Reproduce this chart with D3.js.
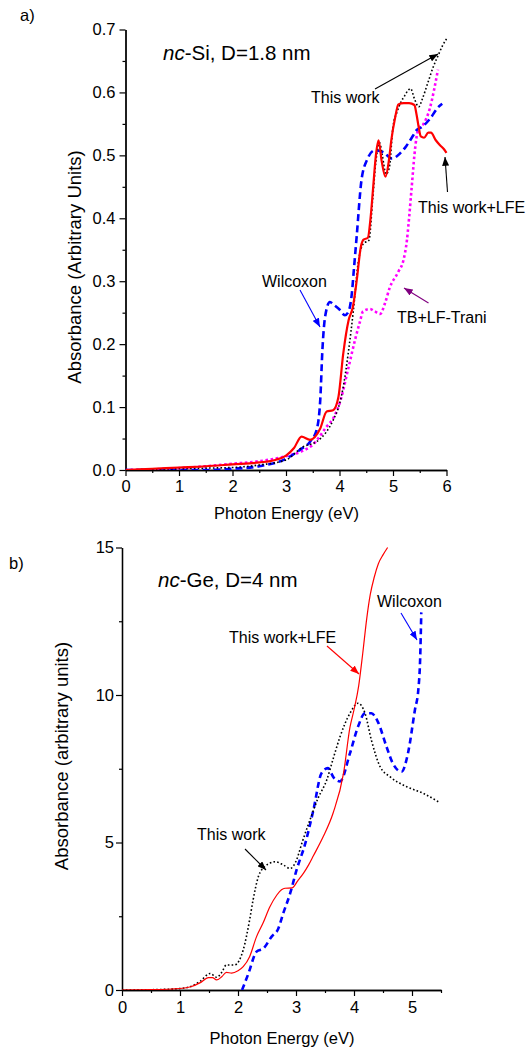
<!DOCTYPE html>
<html>
<head>
<meta charset="utf-8">
<script src="https://cdn.jsdelivr.net/npm/d3@7"></script>
<style>
  html, body { margin: 0; padding: 0; background: #fff; }
  svg { display: block; font-family: "Liberation Sans", Arial, sans-serif; }
</style>
</head>
<body>
<svg id="chart" width="528" height="1048"></svg>
<script>
// ---------- Panel a) nc-Si ----------
const siXTicks = [0, 1, 2, 3, 4, 5, 6];
const siYTicks = [0, 0.1, 0.2, 0.3, 0.4, 0.5, 0.6, 0.7];

const siLfeE = [0, 0.5, 1, 1.5, 2, 2.5, 2.8, 3.0, 3.15, 3.29, 3.45, 3.64, 3.76, 3.88, 3.98, 4.07, 4.17, 4.25, 4.32, 4.4, 4.45, 4.53, 4.58, 4.63, 4.68, 4.73, 4.79, 4.86, 4.92, 4.97, 5.04, 5.1, 5.2, 5.3, 5.4, 5.44, 5.48, 5.52, 5.58, 5.66, 5.71, 5.8, 5.88, 5.95, 6.0];
const siLfeA = [0, 0.002, 0.004, 0.006, 0.009, 0.012, 0.016, 0.023, 0.035, 0.053, 0.048, 0.066, 0.093, 0.095, 0.116, 0.185, 0.238, 0.259, 0.3, 0.355, 0.366, 0.369, 0.4, 0.45, 0.5, 0.524, 0.49, 0.466, 0.49, 0.525, 0.56, 0.581, 0.583, 0.583, 0.58, 0.565, 0.545, 0.53, 0.528, 0.536, 0.536, 0.524, 0.516, 0.51, 0.504];

const siWorkE = [0, 0.5, 1, 1.5, 2, 2.5, 3.0, 3.32, 3.57, 3.75, 3.88, 4.0, 4.07, 4.17, 4.26, 4.35, 4.45, 4.55, 4.62, 4.68, 4.75, 4.8, 4.87, 4.93, 5.0, 5.08, 5.15, 5.22, 5.28, 5.33, 5.4, 5.48, 5.55, 5.65, 5.75, 5.85, 5.93, 6.0];
const siWorkA = [0, 0.001, 0.002, 0.003, 0.004, 0.008, 0.016, 0.037, 0.045, 0.06, 0.079, 0.105, 0.132, 0.19, 0.254, 0.33, 0.36, 0.365, 0.43, 0.49, 0.52, 0.5, 0.47, 0.48, 0.545, 0.57, 0.585, 0.595, 0.603, 0.606, 0.59, 0.577, 0.59, 0.615, 0.64, 0.66, 0.675, 0.685];

const siWilcE = [0, 1, 1.5, 2, 2.5, 3.0, 3.26, 3.45, 3.57, 3.64, 3.68, 3.73, 3.82, 3.9, 4.0, 4.1, 4.17, 4.23, 4.27, 4.32, 4.41, 4.51, 4.66, 4.82, 4.98, 5.13, 5.25, 5.38, 5.44, 5.54, 5.69, 5.85, 5.92];
const siWilcA = [0, 0, 0, 0.002, 0.006, 0.018, 0.032, 0.045, 0.063, 0.111, 0.19, 0.243, 0.267, 0.262, 0.255, 0.246, 0.252, 0.28, 0.32, 0.37, 0.46, 0.492, 0.508, 0.505, 0.495, 0.503, 0.515, 0.532, 0.54, 0.545, 0.558, 0.577, 0.582];

const siTraniE = [0, 0.5, 1, 1.5, 2, 2.5, 3.0, 3.3, 3.5, 3.76, 3.9, 4.01, 4.16, 4.3, 4.38, 4.44, 4.57, 4.66, 4.76, 4.85, 4.94, 5.1, 5.2, 5.26, 5.3, 5.35, 5.4, 5.44, 5.5, 5.57, 5.63, 5.69, 5.77, 5.84];
const siTraniA = [0, 0.001, 0.003, 0.006, 0.01, 0.014, 0.022, 0.03, 0.04, 0.069, 0.085, 0.108, 0.16, 0.21, 0.235, 0.252, 0.256, 0.252, 0.248, 0.265, 0.29, 0.315, 0.335, 0.365, 0.4, 0.45, 0.5, 0.529, 0.545, 0.55, 0.56, 0.575, 0.605, 0.636];

// ---------- Panel b) nc-Ge ----------
const geXTicks = [0, 1, 2, 3, 4, 5];
const geYTicks = [0, 5, 10, 15];

const geLfeE = [0, 0.5, 1.0, 1.2, 1.35, 1.49, 1.56, 1.63, 1.72, 1.8, 1.89, 2.0, 2.09, 2.2, 2.32, 2.43, 2.55, 2.67, 2.75, 2.81, 2.93, 3.03, 3.13, 3.22, 3.3, 3.47, 3.64, 3.82, 3.93, 4.0, 4.08, 4.15, 4.22, 4.28, 4.35, 4.42, 4.5, 4.58];
const geLfeA = [0, 0.01, 0.05, 0.12, 0.25, 0.42, 0.42, 0.34, 0.45, 0.6, 0.57, 0.65, 0.79, 1.13, 1.81, 2.26, 2.82, 3.22, 3.4, 3.45, 3.46, 3.7, 3.96, 4.25, 4.55, 5.2, 6.0, 7.35, 8.9, 9.5, 10.3, 11.4, 12.6, 13.4, 14.0, 14.45, 14.75, 15.0];

const geWorkE = [0, 0.5, 1.0, 1.2, 1.35, 1.52, 1.63, 1.72, 1.8, 1.94, 2.09, 2.2, 2.26, 2.35, 2.46, 2.55, 2.64, 2.78, 2.9, 3.01, 3.1, 3.24, 3.38, 3.53, 3.65, 3.76, 3.93, 4.07, 4.19, 4.3, 4.45, 4.62, 4.91, 5.19, 5.48];
const geWorkA = [0, 0.01, 0.05, 0.13, 0.3, 0.56, 0.43, 0.6, 0.85, 0.85, 1.36, 2.37, 3.05, 3.84, 4.18, 4.3, 4.35, 4.24, 4.12, 4.41, 4.97, 5.76, 6.5, 7.12, 7.9, 8.59, 9.38, 9.72, 9.38, 8.47, 7.57, 7.23, 6.89, 6.67, 6.35];

const geWilcE = [2.07, 2.18, 2.32, 2.44, 2.58, 2.69, 2.78, 2.9, 3.01, 3.16, 3.3, 3.44, 3.55, 3.65, 3.76, 3.93, 4.07, 4.19, 4.3, 4.41, 4.56, 4.67, 4.82, 4.93, 5.05, 5.11, 5.14, 5.16];
const geWilcA = [0, 0.56, 1.3, 1.41, 1.81, 2.06, 2.6, 3.28, 4.07, 4.97, 6.1, 7.35, 7.52, 7.2, 7.07, 8.02, 8.93, 9.38, 9.38, 9.1, 8.25, 7.68, 7.4, 8.02, 9.49, 10.2, 11.2, 12.8];

// ---------- drawing ----------
const svg = d3.select("#chart");
const FONT = '"Liberation Sans", Arial, sans-serif';

const defs = svg.append("defs");
function marker(id, color) {
  defs.append("marker")
    .attr("id", id)
    .attr("viewBox", "0 0 10 8")
    .attr("refX", 10).attr("refY", 4)
    .attr("markerWidth", 9).attr("markerHeight", 7)
    .attr("markerUnits", "userSpaceOnUse")
    .attr("orient", "auto")
    .append("path").attr("d", "M0,0 L10,4 L0,8 Z").attr("fill", color);
}
marker("arK", "#000");
marker("arB", "#0000ff");
marker("arP", "#800080");
marker("arR", "#ff0000");

function zip(es, as) { return es.map((e, i) => [e, as[i]]); }

function panel(cfg) {
  const x = d3.scaleLinear().domain(cfg.xDomain).range(cfg.xRange);
  const y = d3.scaleLinear().domain(cfg.yDomain).range(cfg.yRange);
  const g = svg.append("g");

  // minor ticks
  const xAxisMinor = d3.axisBottom(x).tickValues(cfg.xMinor).tickSize(3).tickFormat("").tickSizeOuter(0);
  const yAxisMinor = d3.axisLeft(y).tickValues(cfg.yMinor).tickSize(3).tickFormat("").tickSizeOuter(0);
  g.append("g").attr("transform", `translate(0,${cfg.yRange[0]})`).call(xAxisMinor);
  g.append("g").attr("transform", `translate(${cfg.xRange[0]},0)`).call(yAxisMinor);

  const xAxis = d3.axisBottom(x).tickValues(cfg.xTicks).tickSize(6).tickPadding(cfg.xPad).tickSizeOuter(0).tickFormat(d3.format("d"));
  const yAxis = d3.axisLeft(y).tickValues(cfg.yTicks).tickSize(6).tickPadding(cfg.yPad).tickSizeOuter(0).tickFormat(cfg.yFmt);
  g.append("g").attr("transform", `translate(0,${cfg.yRange[0]})`).call(xAxis);
  g.append("g").attr("transform", `translate(${cfg.xRange[0]},0)`).call(yAxis);

  g.selectAll(".domain").attr("stroke", "#000").attr("stroke-width", 1.3);
  g.selectAll(".tick line").attr("stroke", "#000").attr("stroke-width", 1.2);
  g.selectAll(".tick text").attr("font-family", FONT).attr("font-size", 16.5).attr("fill", "#000");

  const clipId = cfg.id + "clip";
  svg.append("clipPath").attr("id", clipId).append("rect")
    .attr("x", cfg.xRange[0]).attr("y", cfg.yRange[1] - 2)
    .attr("width", cfg.xRange[1] - cfg.xRange[0] + 2)
    .attr("height", cfg.yRange[0] - cfg.yRange[1] + 2);

  const line = d3.line().x(d => x(d[0])).y(d => y(d[1])).curve(d3.curveMonotoneX);
  const lg = svg.append("g").attr("clip-path", `url(#${clipId})`);
  cfg.series.forEach(s => {
    lg.append("path").datum(s.data)
      .attr("d", line)
      .attr("fill", "none")
      .attr("stroke", s.color)
      .attr("stroke-width", s.width)
      .attr("stroke-dasharray", s.dash || null)
      .attr("stroke-linejoin", "round");
  });
  return { x, y };
}

// Panel a
panel({
  id: "si",
  xDomain: [0, 6], xRange: [125.5, 446.5],
  yDomain: [0, 0.7], yRange: [470, 29.5],
  xTicks: siXTicks, yTicks: siYTicks,
  xMinor: d3.range(0.5, 6, 1), yMinor: d3.range(0.05, 0.7, 0.1),
  xPad: 4, yPad: 4, yFmt: d3.format(".1f"),
  series: [
    { data: zip(siTraniE, siTraniA), color: "#ff00ff", width: 2.6, dash: "2.6,2.6" },
    { data: zip(siWilcE, siWilcA), color: "#0000ff", width: 2.6, dash: "7,4" },
    { data: zip(siWorkE, siWorkA), color: "#000", width: 1.6, dash: "1.6,2.2" },
    { data: zip(siLfeE, siLfeA), color: "#ff0000", width: 2.2 }
  ]
});

// Panel b
panel({
  id: "ge",
  xDomain: [0, 5.5], xRange: [122, 441],
  yDomain: [0, 15], yRange: [990, 547.5],
  xTicks: geXTicks, yTicks: geYTicks,
  xMinor: d3.range(0.5, 5.51, 1), yMinor: [2.5, 7.5, 12.5],
  xPad: 5, yPad: 2, yFmt: d3.format("d"),
  series: [
    { data: zip(geWilcE, geWilcA), color: "#0000ff", width: 2.6, dash: "6,4" },
    { data: zip(geWorkE, geWorkA), color: "#000", width: 1.6, dash: "1.6,2.2" },
    { data: zip(geLfeE, geLfeA), color: "#ff0000", width: 1.2 }
  ]
});

// ---------- texts ----------
function text(x, y, str, size, opts = {}) {
  const t = svg.append("text").attr("x", x).attr("y", y)
    .attr("font-family", FONT).attr("font-size", size).attr("fill", "#000")
    .attr("text-anchor", opts.anchor || "start");
  if (opts.rotate) t.attr("transform", `rotate(-90,${x},${y})`);
  t.text(str);
  return t;
}
function titleText(x, y, ital, rest) {
  const t = svg.append("text").attr("x", x).attr("y", y)
    .attr("font-family", FONT).attr("font-size", 20.5).attr("fill", "#000");
  t.append("tspan").attr("font-style", "italic").text(ital);
  t.append("tspan").text(rest);
}
function arrow(x1, y1, x2, y2, color, m) {
  svg.append("line").attr("x1", x1).attr("y1", y1).attr("x2", x2).attr("y2", y2)
    .attr("stroke", color).attr("stroke-width", 1.1).attr("marker-end", `url(#${m})`);
}

text(20, 21, "a)", 16.5);
text(9, 569, "b)", 16.5);

text(81, 267, "Absorbance (Arbitrary Units)", 18.5, { anchor: "middle", rotate: true });
text(286.5, 519, "Photon Energy (eV)", 16.5, { anchor: "middle" });
text(68, 756, "Absorbance (arbitrary units)", 18.5, { anchor: "middle", rotate: true });
text(282, 1044, "Photon Energy (eV)", 16.5, { anchor: "middle" });

titleText(163, 60, "nc", "-Si, D=1.8 nm");
titleText(158, 587, "nc", "-Ge, D=4 nm");

// panel a annotations
text(311, 103, "This work", 16);
arrow(375, 89, 438, 54, "#000", "arK");
text(418, 213, "This work+LFE", 16);
arrow(447.5, 192, 445, 157, "#000", "arK");
text(262, 287, "Wilcoxon", 16);
arrow(300, 290, 320, 327, "#0000ff", "arB");
text(397, 323, "TB+LF-Trani", 16);
arrow(428.5, 303, 404, 288, "#800080", "arP");

// panel b annotations
text(377, 607, "Wilcoxon", 16);
arrow(401, 613, 417, 640, "#0000ff", "arB");
text(229, 643, "This work+LFE", 16);
arrow(327, 646, 359, 674, "#ff0000", "arR");
text(197, 840, "This work", 16);
arrow(245, 849, 266, 870, "#000", "arK");
</script>
</body>
</html>
